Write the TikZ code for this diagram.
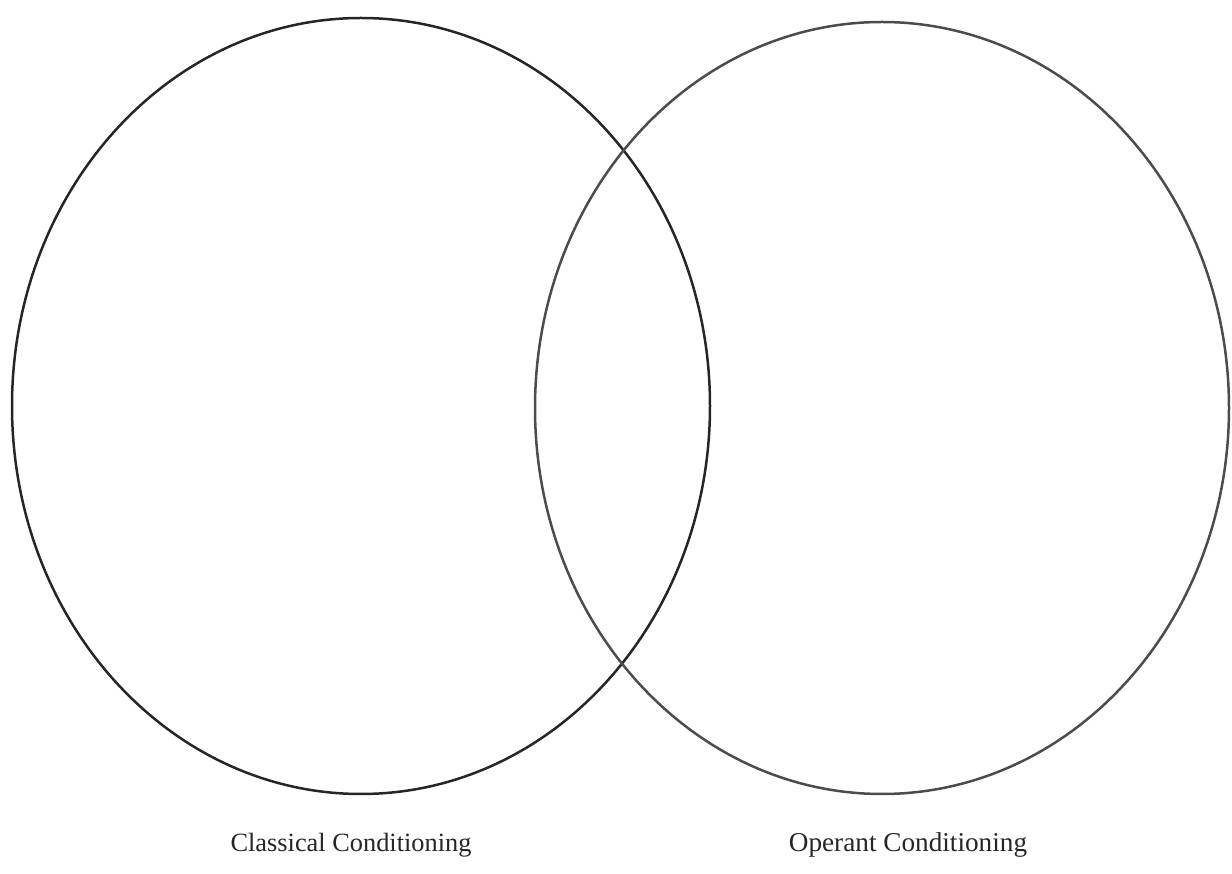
\documentclass[tikz,border=0pt]{standalone}
\usepackage{fontspec}
\setmainfont{Liberation Serif}
\begin{document}
\begin{tikzpicture}[x=0.02cm,y=-0.02cm]
			%%%%% START %%%%%
			\useasboundingbox (0, 0) rectangle (1232, 874);
			
			\draw[line width=0.5mm, color=black!85] (361, 406) ellipse [x radius=349, y radius=388];
			\draw[line width=0.5mm, color=black!70] (882, 408) ellipse [x radius=347, y radius=386];
			
			\node[color=black!85, font=\fontsize{15}{18}\selectfont] (classical) at (351, 845) {Classical Conditioning};
			\node[color=black!85, font=\fontsize{15.5}{18}\selectfont] (operant) at (908, 845) {Operant Conditioning};
			
			%%%%% END %%%%%
		\end{tikzpicture}
\end{document}
